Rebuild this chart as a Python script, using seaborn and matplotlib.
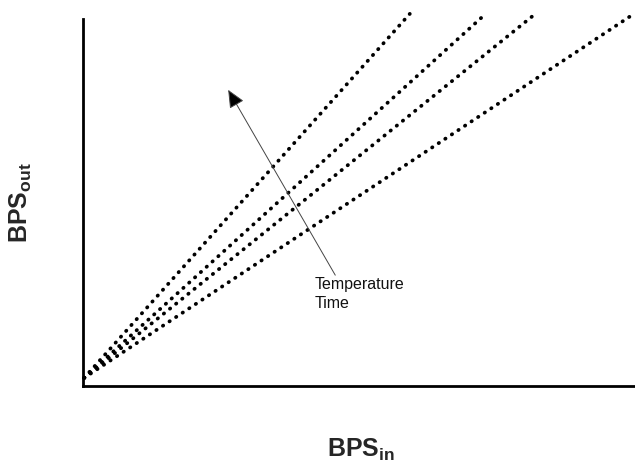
import matplotlib
matplotlib.use("Agg")
import matplotlib.pyplot as plt
import seaborn as sns
import pandas as pd

# Data (axis units 0-100)
series = ["s1", "s2", "s3", "s4"]
x_start = [0.2, 0.2, 0.2, 0.2]
y_start = [2.2, 2.2, 2.2, 2.2]
x_end = [59.2, 72.5, 81.7, 99.8]
y_end = [101.4, 100.8, 101.1, 101.4]

rows = []
for s, xs, ys, xe, ye in zip(series, x_start, y_start, x_end, y_end):
    rows.append({"x": xs, "y": ys, "series": s})
    rows.append({"x": xe, "y": ye, "series": s})
df = pd.DataFrame(rows)

sns.set_theme(style="white")
plt.rcParams["font.family"] = ["Liberation Sans", "DejaVu Sans"]
plt.rcParams["mathtext.fontset"] = "custom"
plt.rcParams["mathtext.rm"] = "Liberation Sans"
plt.rcParams["mathtext.bf"] = "Liberation Sans:bold"

W, H = 635, 462
fig = plt.figure(figsize=(W / 100, H / 100), dpi=100)
ax = fig.add_axes([83 / W, 1 - 386 / H, 1 - 83 / W, (386 - 19) / H])

sns.lineplot(data=df, x="x", y="y", hue="series", style="series",
             palette=["black"] * 4, dashes=[(0.1, 2.0)] * 4,
             linewidth=2.7, legend=False, ax=ax, sort=False, estimator=None)
for ln in ax.get_lines():
    ln.set_dash_capstyle("round")
    ln.set_clip_on(False)

ax.set_xlim(0, 100)
ax.set_ylim(0, 100)
ax.set_xticks([])
ax.set_yticks([])
ax.set_xlabel("")
ax.set_ylabel("")
for side in ["top", "right"]:
    ax.spines[side].set_visible(False)
for side in ["left", "bottom"]:
    ax.spines[side].set_color("black")
    ax.spines[side].set_linewidth(2.0)

fig.text(361 / W, 1 - 450 / H, r"$\mathbf{BPS_{in}}$", fontsize=18,
         ha="center", va="center")
fig.text(21 / W, 1 - 203 / H, r"$\mathbf{BPS_{out}}$", fontsize=18,
         ha="center", va="center", rotation=90)

ax.annotate("", xy=(26.3, 80.7), xytext=(45.7, 30.2), xycoords="data",
            arrowprops=dict(arrowstyle="-|>,head_length=1.0,head_width=0.45",
                            mutation_scale=11, edgecolor="#444444",
                            facecolor="black", lw=0.7,
                            shrinkA=0, shrinkB=0))
ax.text(42.0, 29.8, "Temperature\nTime", fontsize=11.5, ha="left", va="top",
        linespacing=1.4, color="#111111")

fig.savefig("out.png", dpi=100)
